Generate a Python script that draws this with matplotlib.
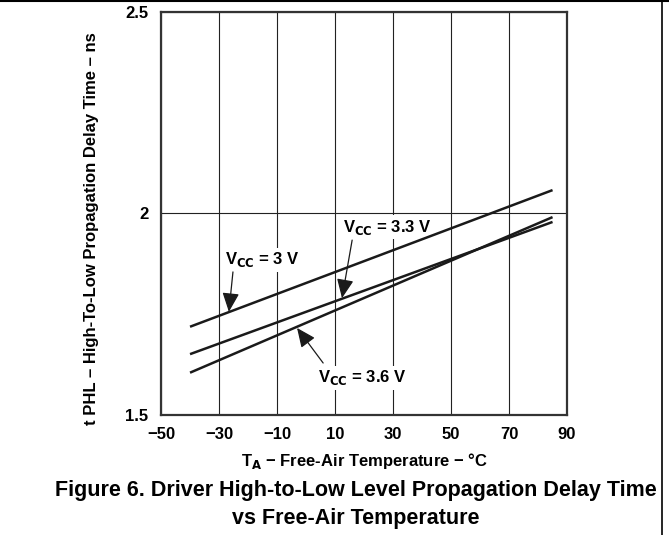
import matplotlib
matplotlib.use("Agg")
from matplotlib import pyplot as plt
from matplotlib.lines import Line2D

plt.rcParams['font.family'] = ['Liberation Sans', 'DejaVu Sans']
plt.rcParams['font.weight'] = 'bold'

# temperature (degC) and tPHL (ns) for each supply voltage
temp = [-40, 85]
tphl_3v0 = [1.719, 2.058]
tphl_3v3 = [1.651, 1.979]
tphl_3v6 = [1.605, 1.991]

x_ticks = [-50, -30, -10, 10, 30, 50, 70, 90]
x_labels = ['\u221250', '\u221230', '\u221210', '10', '30', '50', '70', '90']
y_ticks = [1.5, 2, 2.5]
y_labels = ['1.5', '2', '2.5']

fig = plt.figure(figsize=(6.69, 5.35), dpi=100)
ax = fig.add_axes([0.2407, 0.2243, 0.6069, 0.7533])

for v in tphl_3v0, tphl_3v3, tphl_3v6:
    ax.plot(temp, v, color='#1a1a1a', lw=1.8, solid_capstyle='butt', zorder=3)

ax.set_xlim(-50, 90)
ax.set_ylim(1.5, 2.5)
ax.set_xticks(x_ticks)
ax.set_xticklabels(x_labels, fontsize=12, fontweight='bold')
ax.set_yticks(y_ticks)
ax.set_yticklabels(y_labels, fontsize=12, fontweight='bold')
ax.tick_params(axis='x', length=0, pad=9)
ax.tick_params(axis='y', length=0, pad=9)
ax.grid(True, color='#222222', lw=0.8)
for s in ax.spines.values():
    s.set_linewidth(1.6)
    s.set_color('#333333')

ax.set_xlabel('T$_\\mathbf{A}$ \u2212 Free-Air Temperature \u2212 \u00b0C', fontsize=12,
              fontweight='bold')
ax.xaxis.set_label_coords(0.5, -0.09)
fig.text(0.1375, 0.572, 't PHL \u2013 High-To-Low Propagation Delay Time \u2013 ns',
         fontsize=12, fontweight='bold', rotation=90, ha='center', va='center')

# labels with white boxes (hide grid, not the curves), arrows drawn separately
box = dict(boxstyle='square,pad=0.15', fc='white', ec='none')
arrow = dict(arrowstyle='-|>,head_length=0.9,head_width=0.4', color='#1a1a1a',
             lw=0.9, shrinkA=0, shrinkB=0, mutation_scale=13)

ax.text(-15.0, 1.885, 'V$_\\mathbf{CC}$ = 3 V', fontsize=12, fontweight='bold',
        ha='center', va='center', bbox=box, zorder=2.5)
ax.annotate('', xy=(-26.6, 1.756), xytext=(-25.2, 1.855), arrowprops=arrow, zorder=4)

ax.text(28.1, 1.966, 'V$_\\mathbf{CC}$ = 3.3 V', fontsize=12, fontweight='bold',
        ha='center', va='center', bbox=box, zorder=2.5)
ax.annotate('', xy=(12.4, 1.790), xytext=(15.9, 1.934), arrowprops=arrow, zorder=4)

ax.text(19.3, 1.592, 'V$_\\mathbf{CC}$ = 3.6 V', fontsize=12, fontweight='bold',
        ha='center', va='center', bbox=box, zorder=2.5)
ax.annotate('', xy=(-3.1, 1.716), xytext=(5.9, 1.629), arrowprops=arrow, zorder=4)

fig.text(0.532, 0.084, 'Figure 6. Driver High-to-Low Level Propagation Delay Time',
         fontsize=15.5, fontweight='bold', ha='center', va='center')
fig.text(0.532, 0.031, 'vs Free-Air Temperature',
         fontsize=15.5, fontweight='bold', ha='center', va='center')

fig.add_artist(Line2D([0, 1], [0.998, 0.998], color='black', lw=1.5, transform=fig.transFigure))
fig.add_artist(Line2D([0.9895, 0.9895], [0, 1], color='black', lw=1.2, transform=fig.transFigure))

fig.savefig('out.png', dpi=100)
